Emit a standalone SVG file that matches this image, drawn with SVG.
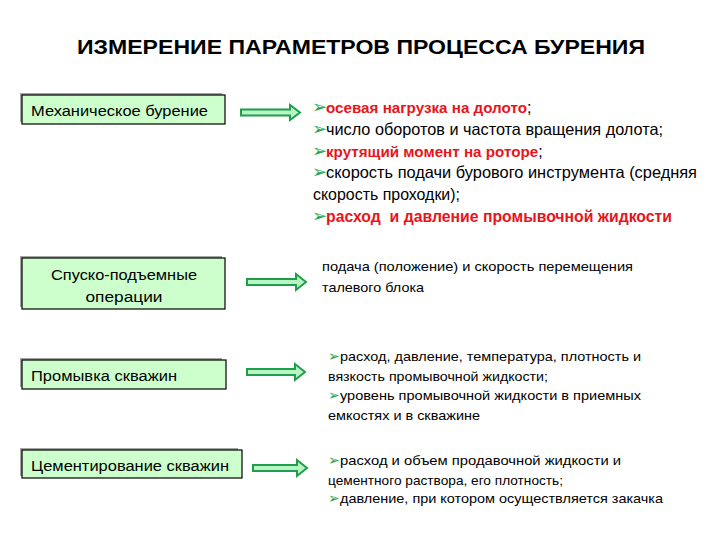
<svg xmlns="http://www.w3.org/2000/svg" width="720" height="540" viewBox="0 0 720 540">
<style>
  .shadow { fill: #a6a6a6; }
  .box { fill: #ccffcc; stroke: #000; stroke-width: 1.2; }
  .lbl { font-family: "Liberation Sans", Arial, sans-serif; font-size: 15.5px; fill: #000; }
  .t1 { font-family: "Liberation Sans", Arial, sans-serif; font-size: 16.5px; fill: #000; }
  .t1b { font-family: "Liberation Sans", Arial, sans-serif; font-size: 15.2px; fill: #000; }
  .t2 { font-family: "Liberation Sans", Arial, sans-serif; font-size: 13.5px; fill: #000; }
  .red { font-weight: bold; fill: #e8141b; }
  .bul { font-family: "DejaVu Sans", sans-serif; fill: #1aa64a; }
  .arrow { fill: #b8f5c4; stroke: #1e9e4a; stroke-width: 2; stroke-linejoin: miter; }
  .title { font-family: "Liberation Sans", Arial, sans-serif; font-size: 20px; font-weight: bold; fill: #000; }
</style>
<rect width="720" height="540" fill="#fff"/>
<text class="title" x="77" y="54" textLength="568" lengthAdjust="spacingAndGlyphs">ИЗМЕРЕНИЕ ПАРАМЕТРОВ ПРОЦЕССА БУРЕНИЯ</text>

<g id="node-mech">
  <rect class="shadow" x="20" y="93" width="202" height="29"/>
  <rect class="box" x="22" y="95" width="203" height="29"/>
  <text class="lbl" x="31" y="116" textLength="177" lengthAdjust="spacingAndGlyphs">Механическое бурение</text>
</g>
<g id="node-spo">
  <rect class="shadow" x="20" y="256" width="202" height="51"/>
  <rect class="box" x="22" y="258" width="203" height="51"/>
  <text class="lbl" x="124" y="280" text-anchor="middle" textLength="146" lengthAdjust="spacingAndGlyphs">Спуско-подъемные</text>
  <text class="lbl" x="124" y="302" text-anchor="middle" textLength="77" lengthAdjust="spacingAndGlyphs">операции</text>
</g>
<g id="node-prom">
  <rect class="shadow" x="20" y="358" width="202" height="29"/>
  <rect class="box" x="22" y="360" width="204" height="29"/>
  <text class="lbl" x="31" y="381" textLength="146" lengthAdjust="spacingAndGlyphs">Промывка скважин</text>
</g>
<g id="node-cem">
  <rect class="shadow" x="20" y="448" width="218" height="28"/>
  <rect class="box" x="22" y="450" width="220" height="28"/>
  <text class="lbl" x="31" y="471" textLength="198" lengthAdjust="spacingAndGlyphs">Цементирование скважин</text>
</g>

<g id="connectors">
  <polygon class="arrow" points="241,109.5 290,109.5 290,105 300,112.5 290,120 290,115.5 241,115.5"/>
  <polygon class="arrow" points="247,279 296,279 296,274 306,282 296,290 296,285 247,285"/>
  <polygon class="arrow" points="247,369 295,369 295,364 305,372 295,380 295,375 247,375"/>
  <polygon class="arrow" points="253,465 297,465 297,460 307,468 297,476 297,471 253,471"/>
</g>

<g id="text-mech">
  <text class="bul" x="312" y="113" font-size="18">➢</text>
  <text class="t1b" x="326" y="113"><tspan class="red">осевая нагрузка на долото</tspan><tspan font-size="16">;</tspan></text>
  <text class="bul" x="312" y="135" font-size="18">➢</text>
  <text class="t1" x="326" y="135" textLength="337" lengthAdjust="spacingAndGlyphs">число оборотов и частота вращения долота;</text>
  <text class="bul" x="312" y="157" font-size="18">➢</text>
  <text class="t1b" x="326" y="157"><tspan class="red">крутящий момент на роторе</tspan><tspan font-size="16">;</tspan></text>
  <text class="bul" x="312" y="178" font-size="18">➢</text>
  <text class="t1" x="326" y="178" textLength="371" lengthAdjust="spacingAndGlyphs">скорость подачи бурового инструмента (средняя</text>
  <text class="t1" x="313" y="200" textLength="147" lengthAdjust="spacingAndGlyphs">скорость проходки);</text>
  <text class="bul" x="312" y="222" font-size="18">➢</text>
  <text class="t1 red" x="326" y="222" textLength="346" lengthAdjust="spacingAndGlyphs" xml:space="preserve">расход  и давление промывочной жидкости</text>
</g>

<g id="text-spo">
  <text class="t2" x="322" y="271" textLength="311" lengthAdjust="spacingAndGlyphs">подача (положение) и скорость перемещения</text>
  <text class="t2" x="322" y="292" textLength="102" lengthAdjust="spacingAndGlyphs">талевого блока</text>
</g>

<g id="text-prom">
  <text class="bul" x="328" y="361" font-size="14">➢</text>
  <text class="t2" x="340" y="361" textLength="301" lengthAdjust="spacingAndGlyphs">расход, давление, температура, плотность и</text>
  <text class="t2" x="328" y="381" textLength="220" lengthAdjust="spacingAndGlyphs">вязкость промывочной жидкости;</text>
  <text class="bul" x="328" y="400" font-size="14">➢</text>
  <text class="t2" x="340" y="400" textLength="301" lengthAdjust="spacingAndGlyphs">уровень промывочной жидкости в приемных</text>
  <text class="t2" x="328" y="420" textLength="152" lengthAdjust="spacingAndGlyphs">емкостях и в скважине</text>
</g>

<g id="text-cem">
  <text class="bul" x="328" y="465" font-size="14">➢</text>
  <text class="t2" x="340" y="465" textLength="281" lengthAdjust="spacingAndGlyphs">расход и объем продавочной жидкости и</text>
  <text class="t2" x="328" y="485" textLength="235" lengthAdjust="spacingAndGlyphs">цементного раствора, его плотность;</text>
  <text class="bul" x="328" y="503" font-size="14">➢</text>
  <text class="t2" x="340" y="503" textLength="323" lengthAdjust="spacingAndGlyphs">давление, при котором осуществляется закачка</text>
</g>
</svg>
